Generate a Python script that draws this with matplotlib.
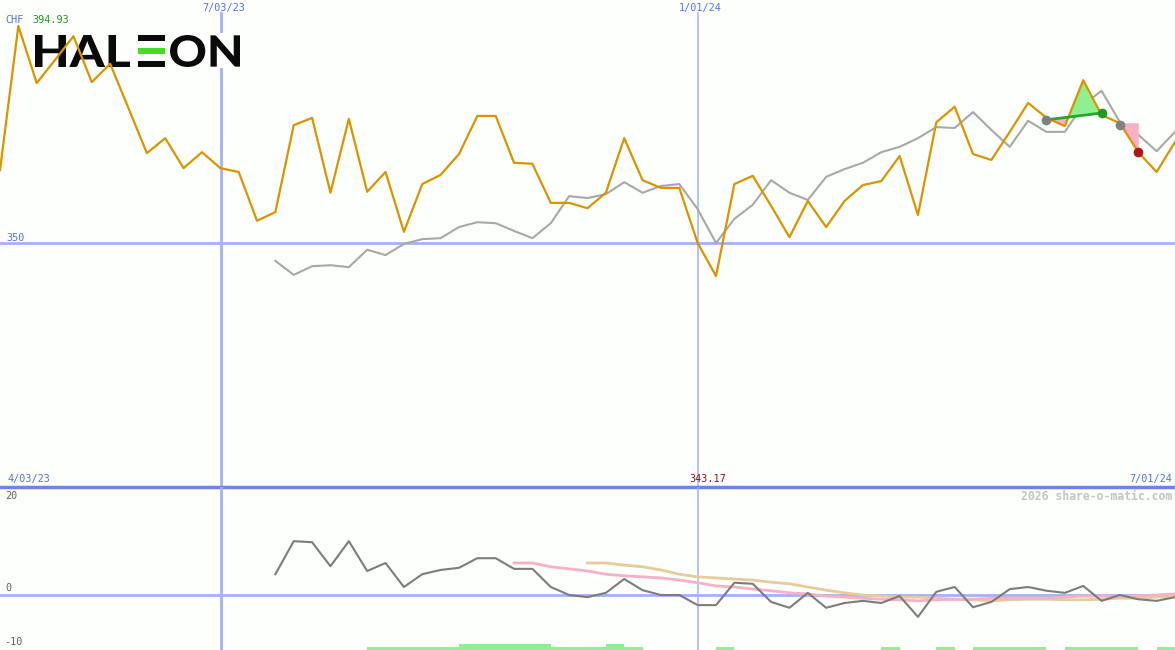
import numpy as np
import matplotlib
matplotlib.use("Agg")
import matplotlib.pyplot as plt
import matplotlib.transforms as mtransforms
from matplotlib.textpath import TextPath
from matplotlib.font_manager import FontProperties
from matplotlib.patches import PathPatch, Rectangle

# ---------------- data ----------------
price = [365.1, 394.93, 383.1, 387.9, 392.8, 383.3, 387.1, 377.9, 368.6, 371.7,
         365.5, 368.8, 365.5, 364.7, 354.6, 356.4, 374.4, 375.9, 360.4, 375.7,
         360.6, 364.7, 352.3, 362.2, 364.1, 368.4, 376.3, 376.3, 366.6, 366.4,
         358.3, 358.3, 357.2, 360.4, 371.7, 363.0, 361.4, 361.4, 350.0, 343.17,
         362.2, 363.9, 357.7, 351.2, 358.7, 353.3, 358.7, 362.0, 362.8, 368.0,
         355.8, 375.0, 378.2, 368.4, 367.2, 373.0, 379.0, 375.9, 374.2, 383.7,
         376.5, 374.8, 368.8, 364.7, 370.9]
avg_start = 15
avg = [346.3, 343.4, 345.2, 345.4, 345.0, 348.6, 347.5, 349.8, 350.8, 351.0,
       353.3, 354.3, 354.1, 352.5, 351.0, 354.1, 359.7, 359.3, 360.1, 362.6,
       360.4, 361.8, 362.2, 357.0, 350.0, 355.0, 357.9, 363.0, 360.4, 358.9,
       363.7, 365.3, 366.6, 368.8, 369.9, 371.7, 374.0, 373.8, 377.1, 373.4,
       369.9, 375.3, 373.0, 373.0, 378.6, 381.5, 375.0, 372.4, 369.0, 373.0]
mom_start = 15
mom = [3.9, 10.1, 9.9, 5.4, 10.1, 4.5, 6.0, 1.5, 3.9, 4.7,
       5.1, 6.9, 6.9, 4.9, 4.9, 1.5, 0.0, -0.4, 0.4, 3.0,
       0.9, 0.0, 0.0, -1.9, -1.9, 2.3, 2.1, -1.3, -2.4, 0.4,
       -2.4, -1.5, -1.1, -1.5, -0.2, -4.1, 0.6, 1.5, -2.3, -1.3,
       1.1, 1.5, 0.8, 0.4, 1.7, -1.1, 0.0, -0.8, -1.1, -0.4]
pink_start = 28
pink = [6.0, 6.0, 5.3, 4.9, 4.5, 3.9, 3.6, 3.4, 3.2, 2.8,
        2.3, 1.7, 1.5, 1.1, 0.8, 0.4, 0.2, -0.2, -0.4, -0.6,
        -0.8, -0.9, -1.1, -0.9, -0.8, -0.8, -0.6, -0.6, -0.6, -0.6,
        -0.4, -0.2, -0.2, -0.4, -0.2, 0.0, 0.2]
tan_start = 32
tan = [6.0, 6.0, 5.6, 5.3, 4.7, 3.9, 3.4, 3.2, 3.0, 2.8,
       2.4, 2.1, 1.5, 0.9, 0.4, 0.0, -0.2, -0.4, -0.4, -0.6,
       -0.8, -0.9, -1.1, -0.9, -0.8, -0.8, -0.9, -0.9, -0.8, -0.6,
       -0.6, -0.4, -0.2]
# signal bars: level per week interval [i, i+1] (0 none, 1 low, 2 high)
bar_level = [0]*20 + [1]*5 + [2]*5 + [1, 1, 1, 2, 1] + [0]*4 + [1] + [0]*8 + \
            [1] + [0]*2 + [1] + [0] + [1]*4 + [0] + [1]*4 + [0] + [1]
trend_x = [57, 60]
trend_y = [375.5, 376.9]
grey_dots_x = [57, 61]
grey_dots_y = [375.5, 374.4]
green_dot = (60, 376.9)
red_dot = (62, 368.8)
drop_level = 374.9

date_labels_top = [(12.04, "7/03/23"), (38.0, "1/01/24")]
ref_level = 350
hi_label = "394.93"
lo_label = "343.17"

# ---------------- style ----------------
W, H = 1175, 650
BG = "#fcfffc"
ORANGE = "#d99400"
GREY = "#a8a8a8"
DGREY = "#7c7c7c"
PINK = "#f8b0c8"
TAN = "#e6cc9a"
GRID = "#a4b2f2"
SEP = "#7082ea"
LBL = "#5a6cf0"
mono = FontProperties(family="DejaVu Sans Mono", size=7.3)

fig = plt.figure(figsize=(W/100, H/100), dpi=100, facecolor=BG)
split_px = 487
ax = fig.add_axes([0, 1 - split_px/H, 1, split_px/H])
axb = fig.add_axes([0, 0, 1, (H - split_px)/H])
for a in (ax, axb):
    a.set_facecolor(BG)
    a.set_xlim(0, 64)
    a.axis("off")

ax.set_ylim(299.49, 400.30)
axb.set_ylim(-10.32, 20.26)

px = mtransforms.Affine2D().scale(1/W, -1/H).translate(0, 1) + fig.transFigure

# grid lines
ax.axhline(ref_level, color=GRID, lw=2, zorder=1)
ax.axvline(date_labels_top[0][0], ymax=1 - 13/487, color=GRID, lw=2, zorder=1)
ax.axvline(date_labels_top[1][0], ymax=1 - 13/487, color=GRID, lw=1.1, zorder=1)
axb.axvline(date_labels_top[0][0], color=GRID, lw=2, zorder=1)
axb.axvline(date_labels_top[1][0], color=GRID, lw=1.1, zorder=1)
axb.axhline(0, color=GRID, lw=2, zorder=1)

# logo
ax.add_patch(Rectangle((30, 33), 215, 35, transform=px, facecolor=BG,
                       edgecolor="none", zorder=1.5))
lp = FontProperties(family="Lato", weight="black")
def fit_text(s, x0, x1, y0, y1):
    tp = TextPath((0, 0), s, size=40, prop=lp)
    e = tp.get_extents()
    tr = (mtransforms.Affine2D().translate(-e.x0, -e.y0)
          .scale((x1 - x0)/e.width, -(y1 - y0)/e.height).translate(x0, y1) + px)
    ax.add_patch(PathPatch(tp, transform=tr, facecolor="#0a0a0a",
                           edgecolor="none", zorder=1.6))
fit_text("HAL", 35, 130, 35, 67)
fit_text("ON", 170, 240, 35, 67)
for (y0, y1, c) in [(35, 41, "#0a0a0a"), (47.5, 54, "#44dd22"), (60.5, 67, "#0a0a0a")]:
    ax.add_patch(Rectangle((138, y0), 27, y1 - y0, transform=px, facecolor=c,
                           edgecolor="none", zorder=1.6))

# main series
xi = np.arange(len(price))
xa = np.arange(avg_start, avg_start + len(avg))
ax.plot(xa, avg, color=GREY, lw=1.5, zorder=2)

# trend fills
xf = np.linspace(trend_x[0], trend_x[1], 60)
of = np.interp(xf, xi, price)
tf = np.interp(xf, trend_x, trend_y)
ax.fill_between(xf, of, tf, where=of >= tf, color="#90f090", interpolate=True,
                lw=0, zorder=2.2)
ax.fill_between(xf, of, tf, where=of < tf, color=PINK, interpolate=True,
                lw=0, zorder=2.2)
xf2 = np.linspace(grey_dots_x[1], red_dot[0], 30)
of2 = np.interp(xf2, xi, price)
ax.fill_between(xf2, of2, drop_level, color=PINK, lw=0, zorder=2.2)

ax.plot(xi, price, color=ORANGE, lw=1.6, zorder=3)
ax.plot(trend_x, trend_y, color="#22aa22", lw=2, zorder=3.5)
ax.plot(grey_dots_x, grey_dots_y, "o", color="#808080", ms=7, mec="none", zorder=4)
ax.plot([green_dot[0]], [green_dot[1]], "o", color="#229922", ms=7, mec="none", zorder=4)
ax.plot([red_dot[0]], [red_dot[1]], "o", color="#aa1818", ms=7, mec="none", zorder=4)

# separator
ax.axhline(ax.get_ylim()[0], color=SEP, lw=2.5, zorder=5, clip_on=False)

# lower panel
axb.bar(np.arange(len(bar_level)), [0.55*l for l in bar_level], width=1,
        align="edge", bottom=axb.get_ylim()[0], color="#90f090", lw=0, zorder=1.5)
axb.plot(np.arange(tan_start, tan_start + len(tan)), tan, color=TAN, lw=2, zorder=2)
axb.plot(np.arange(pink_start, pink_start + len(pink)), pink, color=PINK, lw=2, zorder=2.1)
axb.plot(np.arange(mom_start, mom_start + len(mom)), mom, color=DGREY, lw=1.5, zorder=3)

# texts
def t(x, y, s, c, **kw):
    fig.text(x/W, 1 - y/H, s, color=c, fontproperties=kw.pop("fp", mono),
             va="center", **kw)
t(5, 20, "CHF", LBL)
t(32, 20, hi_label, "#1a9a1a")
for xv, s in date_labels_top:
    t(xv*W/64 + 3, 8, s, LBL, ha="center")
t(6, 238, str(ref_level), LBL)
t(7, 479, "4/03/23", LBL)
t(708, 479, lo_label, "#9a1010", ha="center")
t(1172, 479, "7/01/24", LBL, ha="right")
t(1172, 496, "2026 share-o-matic.com", "#c4c4c4", ha="right",
  fp=FontProperties(family="DejaVu Sans Mono", size=8.3, weight="bold"))
t(5, 496, "20", "#606060")
t(5, 588, "0", "#606060")
t(4, 642, "-10", "#606060")

fig.savefig("out.png", dpi=100, facecolor=BG)
